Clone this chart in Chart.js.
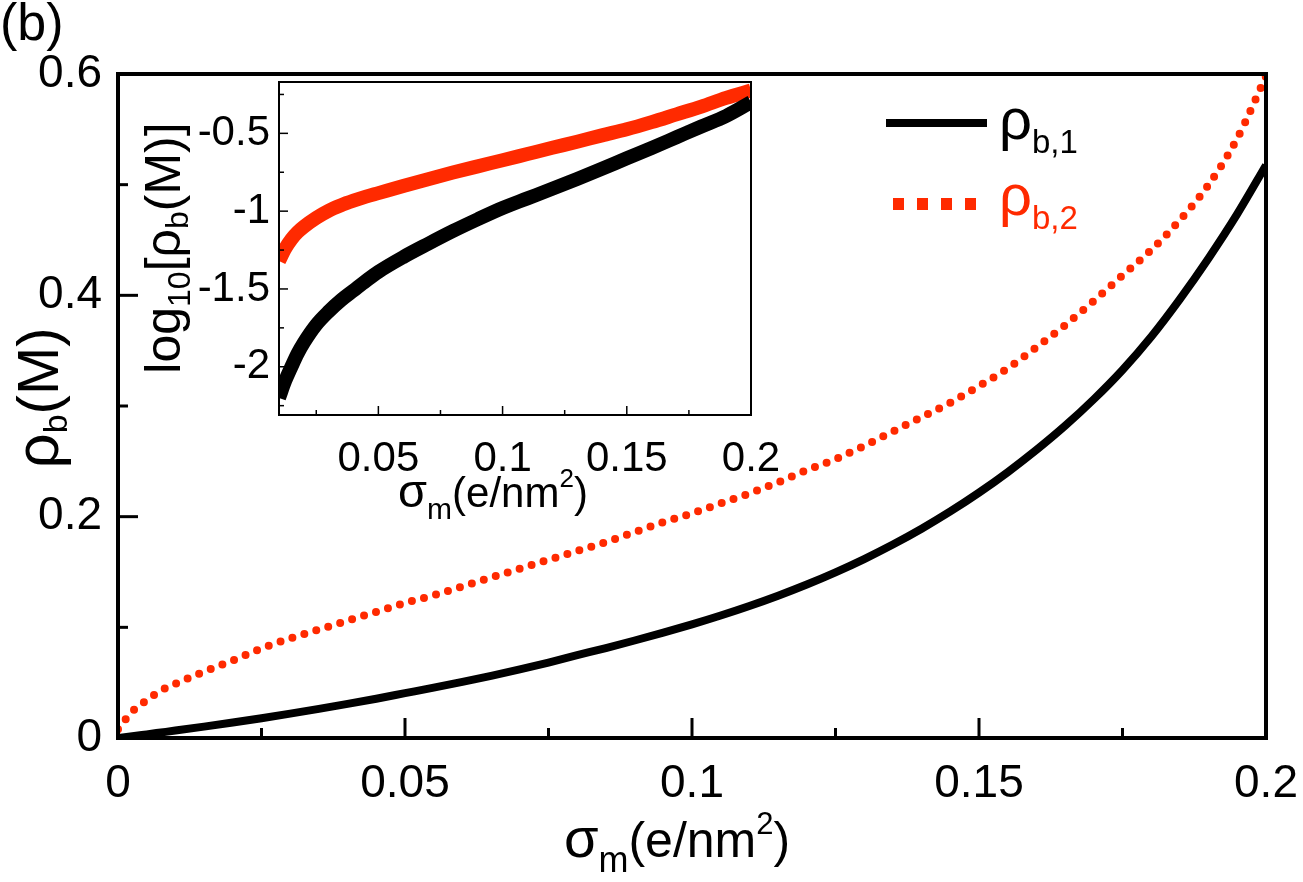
<!DOCTYPE html>
<html><head><meta charset="utf-8">
<script src="https://cdn.jsdelivr.net/npm/chart.js@4.4.1/dist/chart.umd.min.js"></script>
<style>
html,body{margin:0;padding:0;background:#fff;}
#wrap{position:relative;width:1303px;height:882px;background:#fff;}
canvas{position:absolute;left:0;top:0;}
</style>
</head><body>
<div id="wrap"><canvas id="main" width="1303" height="882"></canvas><canvas id="inset" width="1303" height="882"></canvas></div>
<script>
// ---- main panel data ----
const sigma = [0,0.0025,0.005,0.0075,0.01,0.015,0.02,0.025,0.03,0.035,0.04,0.045,0.05,0.055,0.06,0.065,0.07,0.075,0.08,0.085,0.09,0.095,0.1,0.105,0.11,0.115,0.12,0.125,0.13,0.135,0.14,0.145,0.15,0.155,0.16,0.165,0.17,0.175,0.18,0.185,0.19,0.195,0.2];
const rhoB1 = [0,0.0016,0.0033,0.0050,0.0067,0.0103,0.0140,0.0179,0.0220,0.0263,0.0308,0.0355,0.0405,0.0455,0.0507,0.0562,0.0620,0.0682,0.0748,0.0813,0.0881,0.0952,0.1027,0.1107,0.1193,0.1286,0.1387,0.1497,0.1617,0.1748,0.1891,0.2047,0.2217,0.2402,0.2603,0.2821,0.3061,0.3326,0.3626,0.3966,0.4336,0.4736,0.5176];
const rhoB2 = [0.008,0.024,0.034,0.043,0.049,0.060,0.070,0.081,0.090,0.098,0.106,0.114,0.122,0.129,0.137,0.145,0.153,0.161,0.169,0.177,0.186,0.195,0.203,0.212,0.221,0.231,0.242,0.252,0.264,0.277,0.290,0.303,0.318,0.334,0.353,0.373,0.395,0.418,0.441,0.468,0.500,0.542,0.598];
const mainXTicks = [0,0.05,0.1,0.15,0.2];
const mainXTickLabels = ['0','0.05','0.1','0.15','0.2'];
const mainXMinor = [0.025,0.075,0.125,0.175];
const mainYTicks = [0,0.2,0.4,0.6];
const mainYTickLabels = ['0','0.2','0.4','0.6'];
const mainYMinor = [0.1,0.3,0.5];
// ---- inset data (log10) ----
const insetSigma = [0.01,0.0125,0.015,0.0175,0.02,0.025,0.03,0.035,0.04,0.045,0.05,0.06,0.07,0.08,0.09,0.1,0.11,0.12,0.13,0.14,0.15,0.16,0.17,0.18,0.19,0.2];
const logRhoB1 = [-2.20,-2.09,-2.00,-1.915,-1.845,-1.73,-1.645,-1.572,-1.51,-1.448,-1.39,-1.295,-1.21,-1.128,-1.052,-0.98,-0.918,-0.856,-0.793,-0.728,-0.66,-0.594,-0.525,-0.456,-0.388,-0.30];
const logRhoB2 = [-1.32,-1.24,-1.18,-1.135,-1.10,-1.043,-0.997,-0.962,-0.933,-0.907,-0.884,-0.838,-0.795,-0.752,-0.712,-0.673,-0.633,-0.593,-0.554,-0.513,-0.474,-0.428,-0.378,-0.328,-0.272,-0.225];
const insetXTicks = [0.05,0.1,0.15,0.2];
const insetXTickLabels = ['0.05','0.1','0.15','0.2'];
const insetXMinor = [0.025,0.075,0.125,0.175];
const insetYTicks = [-2,-1.5,-1,-0.5];
const insetYTickLabels = ['-2','-1.5','-1','-0.5'];
const insetYMinor = [-2.25,-1.75,-1.25,-0.75,-0.25];

const RED = '#ff2a00';
const FONT = '"Liberation Sans", Arial, Helvetica, sans-serif';
Chart.defaults.font.family = FONT;
Chart.defaults.color = '#000';

function toXY(xs, ys){ return xs.map((x,i)=>({x:x, y:ys[i]})); }

function drawRich(ctx, parts, x, y, rot, align){
  ctx.save(); ctx.translate(x,y); ctx.rotate(rot||0);
  let total = 0;
  parts.forEach(p=>{ ctx.font = p.size+'px '+FONT; p.w = ctx.measureText(p.t).width; total += p.w; });
  let cx = align==='center' ? -total/2 : (align==='right' ? -total : 0);
  ctx.textAlign='left'; ctx.textBaseline='alphabetic';
  parts.forEach(p=>{ ctx.font = p.size+'px '+FONT; ctx.fillStyle = p.color||'#000'; ctx.fillText(p.t, cx, p.dy||0); cx += p.w; });
  ctx.restore();
}

const frameTicks = {
  id:'frameTicks',
  afterDatasetsDraw(chart, args, o){
    const {ctx, chartArea:a} = chart;
    const x = chart.scales.x, y = chart.scales.y;
    ctx.save();
    ctx.strokeStyle='#000'; ctx.lineCap='butt';
    ctx.lineWidth = o.tickWidth;
    const xt = (vals,len)=>vals.forEach(v=>{const p=x.getPixelForValue(v); ctx.beginPath(); ctx.moveTo(p,a.bottom); ctx.lineTo(p,a.bottom-len); ctx.stroke();});
    const yt = (vals,len)=>vals.forEach(v=>{const p=y.getPixelForValue(v); ctx.beginPath(); ctx.moveTo(a.left,p); ctx.lineTo(a.left+len,p); ctx.stroke();});
    xt(o.xMajor,o.major); xt(o.xMinor,o.minor); yt(o.yMajor,o.major); yt(o.yMinor,o.minor);
    ctx.lineWidth = o.frameWidth;
    ctx.strokeRect(a.left, a.top, a.right-a.left, a.bottom-a.top);
    ctx.restore();
  }
};

const mainText = {
  id:'mainText',
  afterDraw(chart){
    const ctx = chart.ctx;
    drawRich(ctx,[{t:'(b)',size:52}],0,40,0,'left');
    drawRich(ctx,[{t:'σ',size:56},{t:'m',size:36,dy:15},{t:'(e/nm',size:50},{t:'2',size:31,dy:-23},{t:')',size:50}],677,857,0,'center');
    drawRich(ctx,[{t:'ρ',size:62},{t:'b',size:34,dy:9},{t:'(M)',size:58}],58,398,-Math.PI/2,'center');
    ctx.save();
    ctx.strokeStyle='#000'; ctx.lineWidth=8; ctx.lineCap='butt';
    ctx.beginPath(); ctx.moveTo(886,123); ctx.lineTo(987,123); ctx.stroke();
    ctx.strokeStyle=RED; ctx.lineWidth=12; ctx.setLineDash([11,13]);
    ctx.beginPath(); ctx.moveTo(893,204); ctx.lineTo(980,204); ctx.stroke();
    ctx.restore();
    drawRich(ctx,[{t:'ρ',size:58},{t:'b,1',size:33,dy:14}],999,139,0,'left');
    drawRich(ctx,[{t:'ρ',size:58,color:RED},{t:'b,2',size:33,dy:14,color:RED}],999,215,0,'left');
  }
};

const insetText = {
  id:'insetText',
  afterDraw(chart){
    const ctx = chart.ctx;
    drawRich(ctx,[{t:'σ',size:47},{t:'m',size:30,dy:12},{t:'(e/nm',size:42},{t:'2',size:26,dy:-20},{t:')',size:42}],493,507,0,'center');
    drawRich(ctx,[{t:'log',size:50},{t:'10',size:32,dy:10},{t:'[ρ',size:50},{t:'b',size:32,dy:8},{t:'(M)]',size:50}],180,248,-Math.PI/2,'center');
  }
};

function tickScale(vals, labels, min, max, size, pad, fit){
  return {
    type:'linear', min:min, max:max,
    afterBuildTicks: s => { s.ticks = vals.map(v=>({value:v})); },
    afterFit: fit,
    ticks:{ autoSkip:false, maxRotation:0, minRotation:0, padding:pad, color:'#000',
      font:{size:size, family:FONT}, callback:(v,i)=>labels[i] },
    grid:{ display:false, drawTicks:false }, border:{ display:false }
  };
}
const fitX = h => s => { s.height = h; s.paddingLeft = 0; s.paddingRight = 0; };
const fitY = w => s => { s.width = w; s.paddingTop = 0; s.paddingBottom = 0; };

new Chart(document.getElementById('main'),{
  type:'line',
  data:{ datasets:[
    { label:'ρb,1', data:toXY(sigma,rhoB1), borderColor:'#000', borderWidth:8, pointRadius:0, cubicInterpolationMode:'monotone', fill:false },
    { label:'ρb,2', data:toXY(sigma,rhoB2), borderColor:RED, borderWidth:8, borderDash:[0,12.5], borderCapStyle:'round', pointRadius:0, cubicInterpolationMode:'monotone', fill:false }
  ]},
  options:{
    responsive:false, animation:false, devicePixelRatio:1,
    layout:{ padding:{ left:0, top:74, right:1303-1266, bottom:0 } },
    plugins:{ legend:{display:false}, tooltip:{enabled:false},
      frameTicks:{ xMajor:mainXTicks, xMinor:mainXMinor, yMajor:mainYTicks, yMinor:mainYMinor, major:20, minor:10, tickWidth:3, frameWidth:4 } },
    scales:{
      x: tickScale(mainXTicks, mainXTickLabels, 0, 0.2, 46, 19, fitX(882-738)),
      y: tickScale(mainYTicks, mainYTickLabels, 0, 0.6, 46, 16, fitY(118))
    }
  },
  plugins:[frameTicks, mainText]
});

new Chart(document.getElementById('inset'),{
  type:'line',
  data:{ datasets:[
    { label:'log ρb,1', data:toXY(insetSigma,logRhoB1), borderColor:'#000', borderWidth:14, pointRadius:0, cubicInterpolationMode:'monotone', fill:false, clip:0 },
    { label:'log ρb,2', data:toXY(insetSigma,logRhoB2), borderColor:RED, borderWidth:14, pointRadius:0, cubicInterpolationMode:'monotone', fill:false, clip:0 }
  ]},
  options:{
    responsive:false, animation:false, devicePixelRatio:1,
    layout:{ padding:{ left:0, top:82, right:1303-751, bottom:0 } },
    plugins:{ legend:{display:false}, tooltip:{enabled:false},
      frameTicks:{ xMajor:insetXTicks, xMinor:insetXMinor, yMajor:insetYTicks, yMinor:insetYMinor, major:9, minor:5, tickWidth:1.5, frameWidth:2 } },
    scales:{
      x: tickScale(insetXTicks, insetXTickLabels, 0.01, 0.2, 42, 19, fitX(882-415)),
      y: tickScale(insetYTicks, insetYTickLabels, -2.31, -0.17, 42, 9, fitY(279))
    }
  },
  plugins:[frameTicks, insetText]
});
</script>
</body></html>
